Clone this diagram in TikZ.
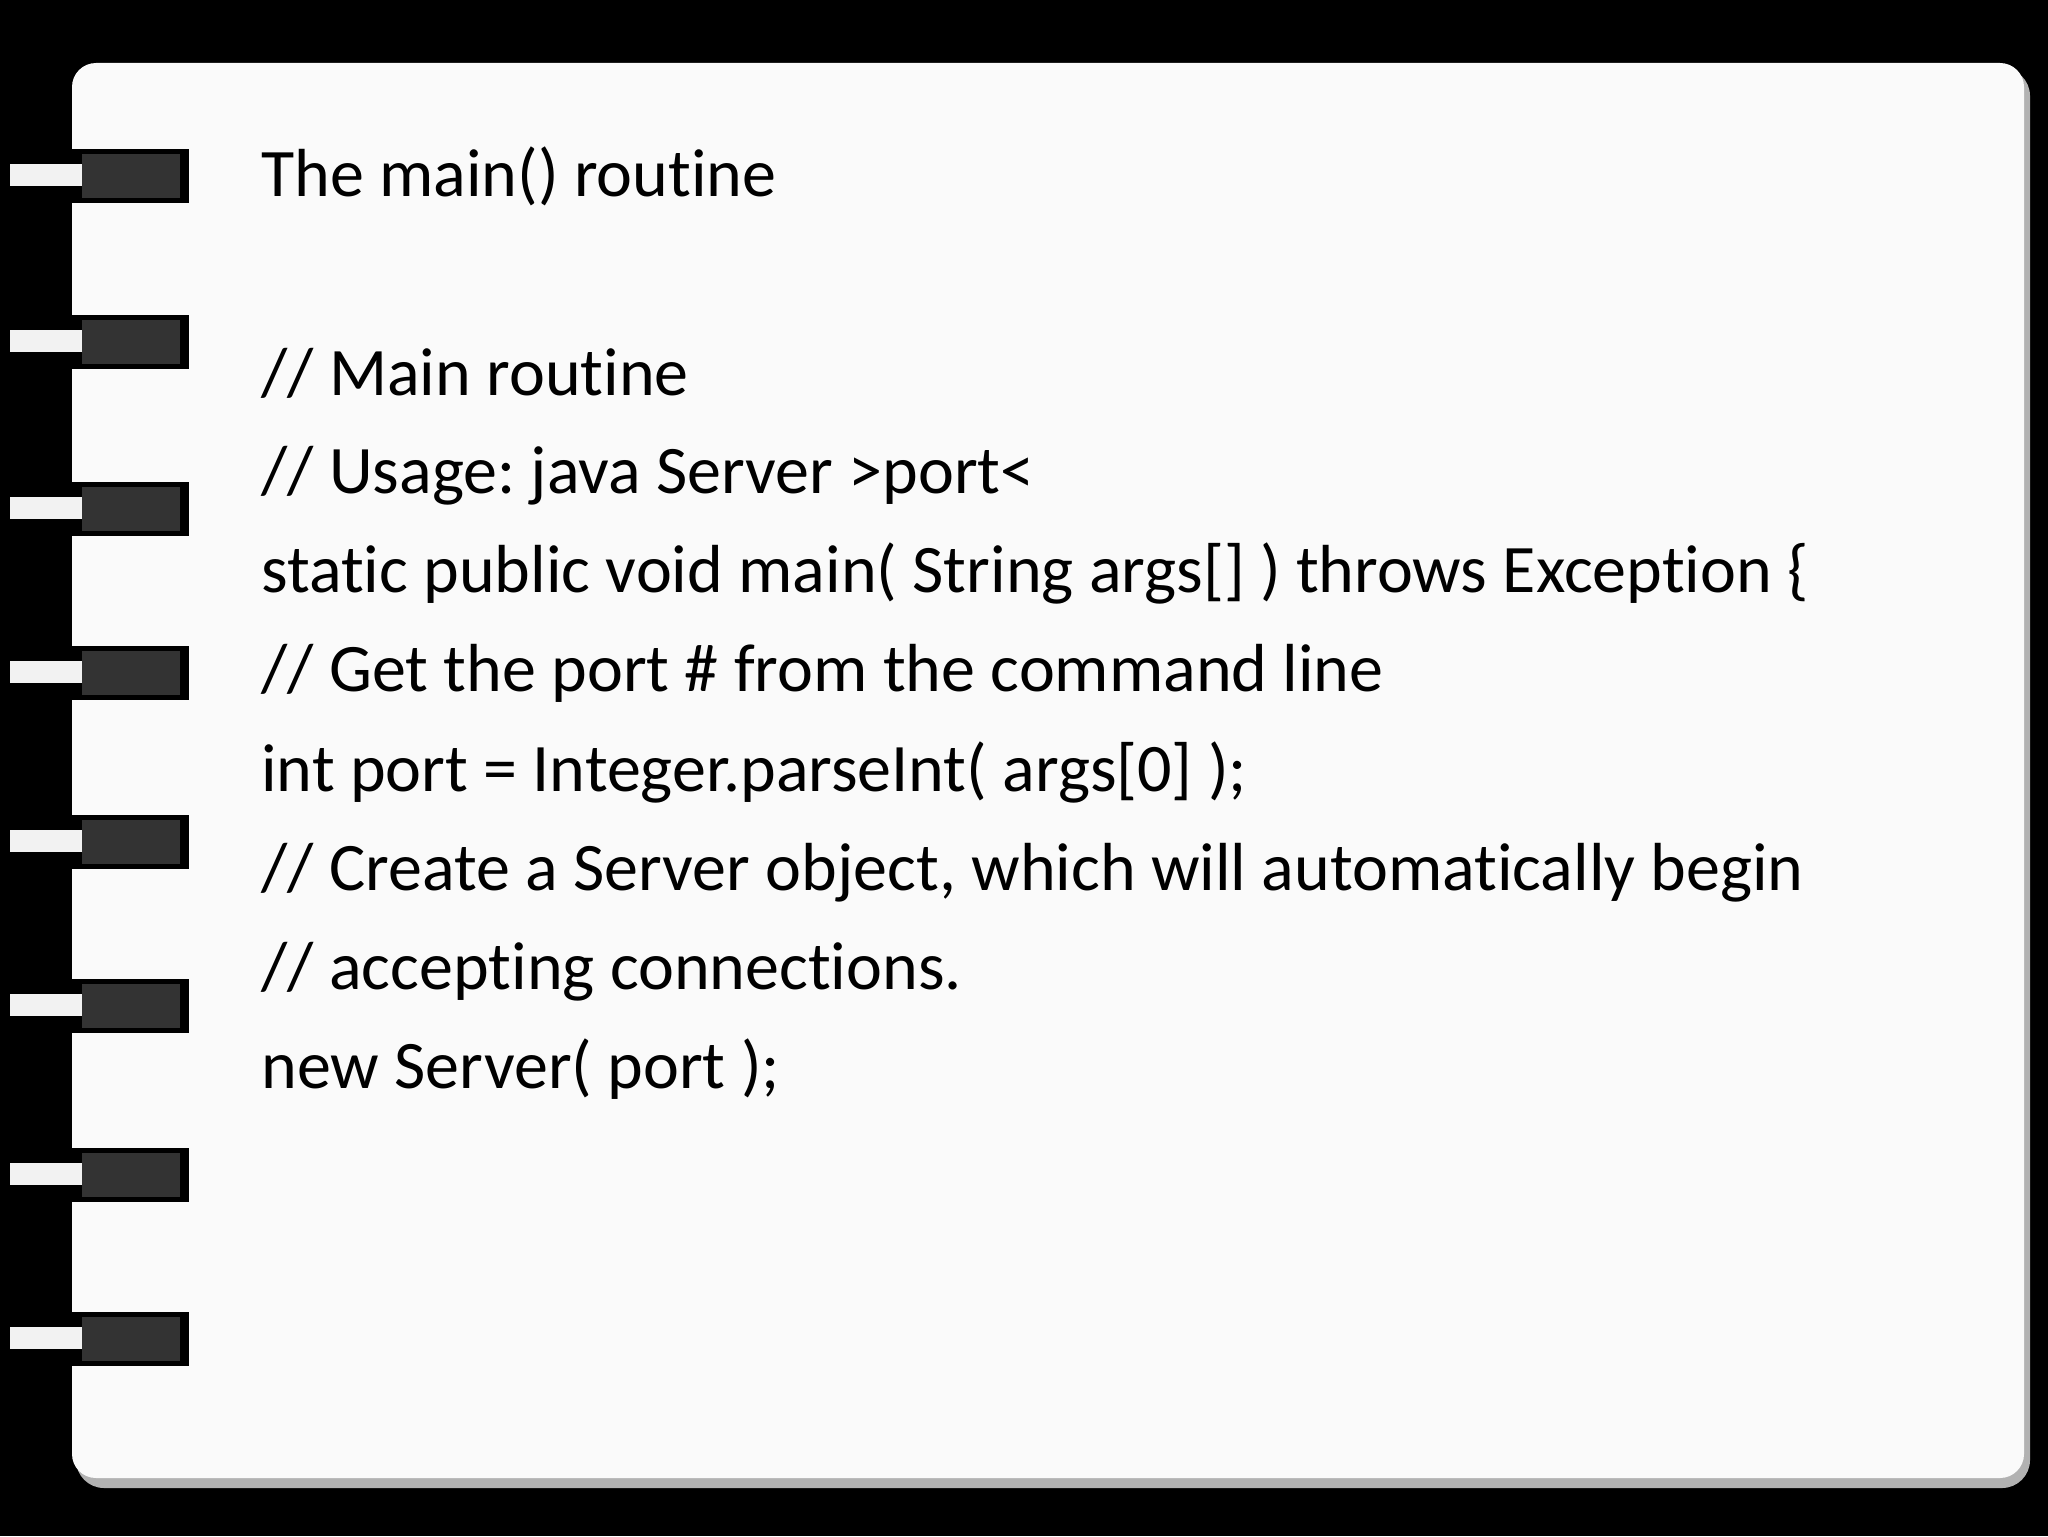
\documentclass[tikz,border=0pt]{standalone}
\usepackage{fontspec}
\setmainfont[Ligatures=NoCommon]{Carlito}
\frenchspacing
\begin{document}
\begin{tikzpicture}[x=0.5pt,y=-0.5pt,
  line/.style={anchor=base west,inner sep=0pt,font=\fontsize{34}{40}\selectfont},
  tab/.style={fill=black}]
\useasboundingbox (0,0) rectangle (2048,1536);
\fill[black] (0,0) rectangle (2048,1536);
\fill[gray!60,rounded corners=14] (76,68) rectangle (2030,1488);
\fill[white!96!gray,rounded corners=12] (72,63) rectangle (2024,1478);
\foreach \y [count=\i] in {176,342,509,673,842,1006,1175,1339}{
  \fill[black] (0,\y-27) rectangle (189,\y+27);
  \fill[white!90!gray] (10,\y-12) rectangle (82,\y+10);
  \fill[gray!40!black] (82,\y-22) rectangle (180,\y+22);
}
\node[line] (t0) at (261,196) {The main() routine};
\node[line] (t1) at (261,395) {// Main routine};
\node[line] (t2) at (261,493) {// Usage: java Server >port<};
\node[line] (t3) at (261,592) {static public void main( String args[] ) throws Exception \{};
\node[line] (t4) at (261,691) {// Get the port \# from the command line};
\node[line] (t5) at (261,791) {int port = Integer.parseInt( args[0] );};
\node[line] (t6) at (261,890) {// Create a Server object, which will automatically begin};
\node[line] (t7) at (261,989) {// accepting connections.};
\node[line] (t8) at (261,1088) {new Server( port );};
\end{tikzpicture}
\end{document}
